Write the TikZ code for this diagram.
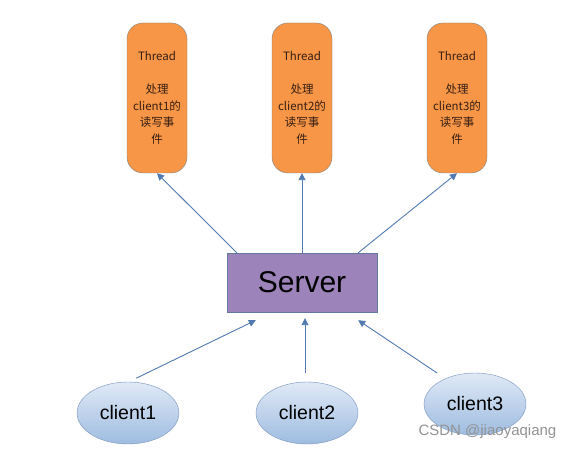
\documentclass[tikz,border=0pt]{standalone}
\usepackage{fontspec}
\usepackage{xcolor}
\usepackage{tikz}
\usetikzlibrary{arrows.meta,shapes.geometric}
\setmainfont{Liberation Sans}
\newfontfamily\cjk{Noto Sans CJK SC}
\definecolor{threadfill}{RGB}{247,150,70}
\definecolor{threaddraw}{RGB}{128,128,128}
\definecolor{threadtext}{RGB}{55,30,20}
\definecolor{serverfill}{RGB}{156,132,186}
\definecolor{serverdraw}{RGB}{100,120,160}
\definecolor{clienttop}{RGB}{224,233,246}
\definecolor{clientbottom}{RGB}{158,188,224}
\definecolor{clientdraw}{RGB}{120,148,188}
\definecolor{linkcolor}{RGB}{82,122,176}

\begin{document}
\begin{tikzpicture}[
  x=1pt,
  y=1pt,
  threadbox/.style={draw=threaddraw, fill=threadfill, rounded corners=16pt,
    minimum width=60pt, minimum height=150pt, inner sep=0pt, align=center,
    text=threadtext, font=\cjk\fontsize{11.5}{16.5}\selectfont},
  serverbox/.style={draw=serverdraw, fill=serverfill, minimum width=150pt,
    minimum height=59pt, font=\fontsize{30}{36}\selectfont},
  clientnode/.style={ellipse, draw=clientdraw, top color=clienttop,
    bottom color=clientbottom, minimum width=102pt, minimum height=62pt,
    inner sep=0pt, font=\fontsize{19.5}{24}\selectfont},
  link/.style={draw=linkcolor, line width=0.9pt,
    -{Triangle[length=7pt,width=7pt]}},
  markfont/.style={font=\fontsize{15}{18}\selectfont, text=gray!85}
]
\useasboundingbox[fill=white] (0,0) rectangle (575,449);

\foreach \i/\x in {1/157,2/302,3/457} {
  \node[threadbox] (thread\i) at (\x,351) {Thread\\[16.5pt]处理\\client{\i}的\\读写事\\件};
}

\node[serverbox] (server) at (302,166.5) {Server};

\foreach \i/\x/\y in {1/128/36,2/307/36,3/475/45} {
  \node[clientnode] (client\i) at (\x,\y) {client\i};
}

\draw[link] ([xshift=10pt]server.north west) -- (thread1.south);
\draw[link] (server.north) -- (thread2.south);
\draw[link] ([xshift=-19pt]server.north east) -- (thread3.south);

\draw[link] ([yshift=4pt]client1.75) -- ([xshift=29pt,yshift=-8pt]server.south west);
\draw[link] ([xshift=-2pt,yshift=9pt]client2.north) -- ([xshift=3pt,yshift=-6pt]server.south);
\draw[link] ([yshift=10pt]client3.151) -- ([xshift=-19pt,yshift=-8pt]server.south east);

\node[markfont, anchor=west] (watermark) at (415,17) {CSDN @jiaoyaqiang};
\end{tikzpicture}
\end{document}
